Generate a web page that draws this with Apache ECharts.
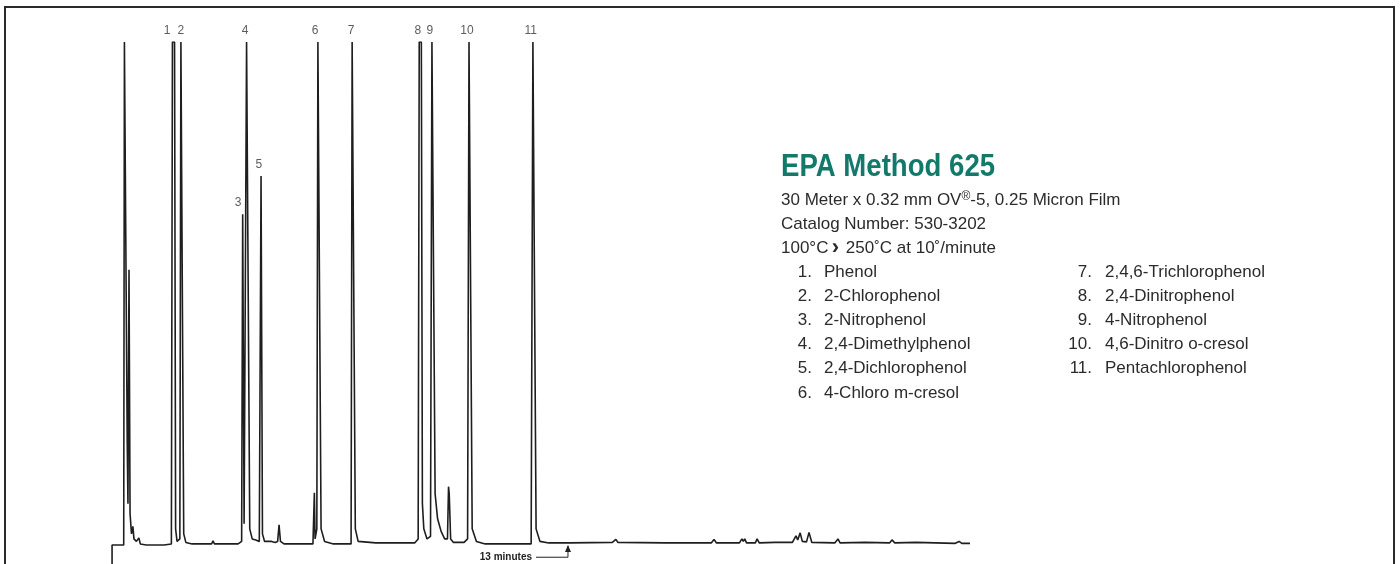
<!DOCTYPE html>
<html>
<head>
<meta charset="utf-8">
<script src="https://cdn.jsdelivr.net/npm/echarts@6/dist/echarts.min.js"></script>
<style>
html,body{margin:0;padding:0;background:#fff;}
#chart{width:1400px;height:564px;}
</style>
</head>
<body>
<div id="chart"></div>
<script>
// Chromatogram trace: [retention time (min), detector response (% of full scale)]
const trace = [
  [0.03,-4],[0.03,-0.2],[0.36,-0.2],[0.38,100],[0.43,100],[0.46,20],[0.48,8],[0.51,54.6],[0.54,6],[0.58,2],
  [0.62,3.5],[0.65,1],[0.72,0.5],[0.79,1.2],[0.83,0],[1.0,-0.2],[1.5,-0.2],[1.71,0],
  [1.74,100],[1.80,100],[1.83,3],[1.87,0.5],[1.95,1],
  [1.98,100],[2.03,100],[2.06,2],[2.12,0.3],[2.3,0],[2.85,0],[2.89,0.6],[2.93,0],[3.6,0],[3.7,0.5],
  [3.73,65.7],[3.77,4],
  [3.84,100],[3.89,100],[3.93,3],[4.0,1],[4.1,0.8],[4.14,1],[4.2,0.5],
  [4.25,73.3],[4.29,2],[4.35,0.5],[4.55,0.5],[4.59,0.8],[4.65,0.3],[4.72,0.5],[4.76,3.8],[4.8,0.5],[4.9,0],[5.72,0],
  [5.76,10.2],[5.78,1],[5.83,3],
  [5.86,100],[5.91,100],[5.95,3],[6.05,0.5],[6.3,0],[6.8,0],
  [6.83,100],[6.88,100],[6.92,3],[7.0,0.5],[7.5,0.2],[8.6,0.2],[8.7,1],
  [8.73,100],[8.79,100],[8.82,8],[8.86,3],[8.95,1],[9.05,1.5],
  [9.09,100],[9.14,100],[9.18,10],[9.25,5],[9.35,2.5],[9.45,1],[9.53,1],
  [9.56,11.4],[9.58,10],[9.62,1],[9.7,0.3],[10.0,0.3],[10.1,1],
  [10.14,100],[10.19,100],[10.23,3],[10.35,0.5],[10.6,0],[11.9,0],
  [11.95,100],[12.0,100],[12.04,3],[12.15,0.5],[12.4,0.2],[13.0,0.2],
  [14.2,0.3],[14.3,0.9],[14.36,0.3],[15.7,0.2],[15.75,0.5],[15.8,0.2],[17.0,0.2],[17.08,0.9],[17.15,0.2],
  [17.8,0.2],[17.87,1.0],[17.91,0.5],[17.95,1.0],[18.0,0.2],[18.25,0.2],[18.3,1.0],[18.36,0.2],[18.8,0.3],
  [19.3,0.3],[19.4,1.6],[19.45,0.8],[19.52,2.2],[19.58,0.5],[19.7,0.4],[19.77,2.3],[19.85,0.3],
  [20.5,0.2],[20.59,1.0],[20.65,0.2],[21.35,0.3],[22.05,0.2],[22.12,0.8],[22.2,0.2],[22.8,0.3],
  [23.9,0.1],[24.02,0.5],[24.1,0.1],[24.33,0.1]
];

// Peak number labels: text, label time (min), peak top (%)
const peakNumbers = ['1','2','3','4','5','6','7','8','9','10','11'];
const peakLabelTimes = [1.59,1.98,3.6,3.8,4.19,5.78,6.8,8.69,9.03,10.08,11.89];
const peakTops = [100,100,65.7,100,73.3,100,100,100,100,100,100];

const methodTitle = 'EPA Method 625';
const columnLine = ['30 Meter x 0.32 mm OV', '®', '-5, 0.25 Micron Film'];
const catalogLine = 'Catalog Number: 530-3202';
const tempProgram = ['100°C', '250˚C at 10˚/minute'];
const compoundsLeft = ['Phenol','2-Chlorophenol','2-Nitrophenol','2,4-Dimethylphenol','2,4-Dichlorophenol','4-Chloro m-cresol'];
const compoundsRight = ['2,4,6-Trichlorophenol','2,4-Dinitrophenol','4-Nitrophenol','4,6-Dinitro o-cresol','Pentachlorophenol'];
const markerTime = 13;
const markerText = '13 minutes';

const FONT = '"Liberation Sans Narrow", "Liberation Sans", Arial, sans-serif';
const TXT = '#2b2b2b';
const chart = echarts.init(document.getElementById('chart'), null, {renderer: 'canvas'});

const labelData = peakNumbers.map((n, i) => ({value: [peakLabelTimes[i], peakTops[i]], name: n}));

const graphics = [];
graphics.push({type:'rect', shape:{x:5, y:7, width:1389, height:600}, style:{fill:'none', stroke:'#2a2a2a', lineWidth:2}, silent:true});
graphics.push({type:'text', x:781, y:167, scaleX:0.89, style:{text:methodTitle, font:'bold 31px ' + FONT, fill:'#12796b', verticalAlign:'middle'}});
graphics.push({type:'text', x:781, y:200, style:{
  text:'{a|' + columnLine[0] + '}{s|' + columnLine[1] + '}{a|' + columnLine[2] + '}', verticalAlign:'middle',
  rich:{a:{font:'17px ' + FONT, fill:TXT}, s:{font:'12px ' + FONT, fill:TXT, padding:[0,0,6,0]}}
}});
graphics.push({type:'text', x:781, y:224, style:{text:catalogLine, font:'17px ' + FONT, fill:TXT, verticalAlign:'middle'}});
graphics.push({type:'text', x:781, y:248, style:{
  text:'{a|' + tempProgram[0] + '} {b|›}  {a|' + tempProgram[1] + '}', verticalAlign:'middle',
  rich:{a:{font:'17px ' + FONT, fill:TXT}, b:{font:'bold 22px ' + FONT, fill:TXT}}
}});
compoundsLeft.forEach((t, i) => {
  const y = 272 + i*24.2;
  graphics.push({type:'text', x:812, y:y, style:{text:(i+1)+'.', font:'17px ' + FONT, fill:TXT, align:'right', verticalAlign:'middle'}});
  graphics.push({type:'text', x:824, y:y, style:{text:t, font:'17px ' + FONT, fill:TXT, verticalAlign:'middle'}});
});
compoundsRight.forEach((t, i) => {
  const y = 272 + i*24.2;
  graphics.push({type:'text', x:1092, y:y, style:{text:(i+7)+'.', font:'17px ' + FONT, fill:TXT, align:'right', verticalAlign:'middle'}});
  graphics.push({type:'text', x:1105, y:y, style:{text:t, font:'17px ' + FONT, fill:TXT, verticalAlign:'middle'}});
});

chart.setOption({
  animation:false,
  backgroundColor:'#ffffff',
  grid:{left:111, right:430, top:42, bottom:0, containLabel:false},
  xAxis:{type:'value', min:0, max:24.33, show:false},
  yAxis:{type:'value', min:-4, max:100, show:false},
  series:[
    {
      type:'line', data:trace, symbol:'none', smooth:false, clip:true,
      lineStyle:{color:'#1e1e1e', width:1.6}
    },
    {
      type:'scatter', data:labelData, symbolSize:0, silent:true,
      label:{show:true, position:'top', distance:5, formatter:p => p.name, font:'12px ' + FONT, color:'#333'}
    }
  ],
  graphic:graphics
});

// "13 minutes" marker, positioned through the axis scales
const tip = chart.convertToPixel({gridIndex:0}, [markerTime, 0]);
const base = chart.convertToPixel({gridIndex:0}, [markerTime, -2.65]);
const ax = tip[0] - 2;
const g2 = graphics.slice();
g2.push({type:'polyline', shape:{points:[[536, base[1]], [ax, base[1]], [ax, tip[1] + 2]]}, style:{stroke:'#222', lineWidth:1, fill:'none'}, silent:true});
g2.push({type:'polygon', shape:{points:[[ax-3, tip[1]+8], [ax+3, tip[1]+8], [ax, tip[1]+1]]}, style:{fill:'#222'}, silent:true});
g2.push({type:'text', x:532, y:base[1], style:{text:markerText, font:'bold 10px ' + FONT, fill:'#222', align:'right', verticalAlign:'middle'}});
chart.setOption({graphic:g2}, {replaceMerge:['graphic']});
</script>
</body>
</html>
